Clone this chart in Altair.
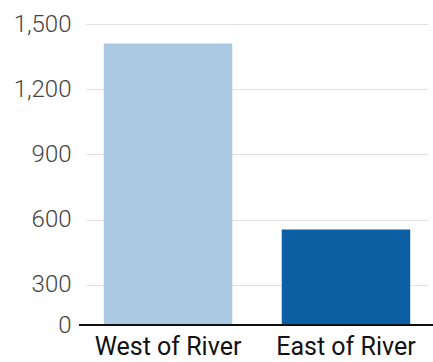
import altair as alt
import pandas as pd

categories = ["West of River", "East of River"]
values = [1410, 555]
colors = ["#abc9e2", "#0d5fa4"]
tick_values = [115, 300, 600, 900, 1200, 1500]
tick_labels = ["0", "300", "600", "900", "1,200", "1,500"]

df = pd.DataFrame({"region": categories, "value": values, "color": colors})

W, H = 347, 301

label_expr = "{" + ",".join(f"'{v}':'{l}'" for v, l in zip(tick_values, tick_labels)) + "}[datum.value]"

bars = alt.Chart(df).mark_bar().encode(
    x=alt.X("region:N", sort=categories,
            scale=alt.Scale(range=[0, 342], paddingInner=0.278, paddingOuter=0.1),
            axis=alt.Axis(title=None, labelAngle=0, domain=False, ticks=False,
                          labelFont="Roboto", labelFontSize=25, labelColor="#111111",
                          labelPadding=9)),
    y=alt.Y("value:Q",
            scale=alt.Scale(domain=[115, 1500], clamp=True, nice=False, zero=False),
            axis=alt.Axis(title=None, values=tick_values, labelExpr=label_expr,
                          domain=False, ticks=False, grid=True, gridColor="#e2e2e2",
                          gridWidth=1, labelFont="Roboto", labelFontSize=24,
                          labelFontWeight=300, labelColor="#444444", labelPadding=15)),
    color=alt.Color("color:N", scale=None),
)

baseline = alt.Chart(df).mark_rule(color="#111111", strokeWidth=2).encode(
    x=alt.value(-7), x2=alt.value(W), y=alt.value(H)
)

chart = alt.layer(bars, baseline).properties(
    width=W, height=H,
    autosize=alt.AutoSizeParams(type="none"),
    padding={"left": 86, "top": 24, "right": 0, "bottom": 37},
).configure_view(stroke=None)

chart.save("out.html", embed_options={"renderer": "svg", "actions": False})
